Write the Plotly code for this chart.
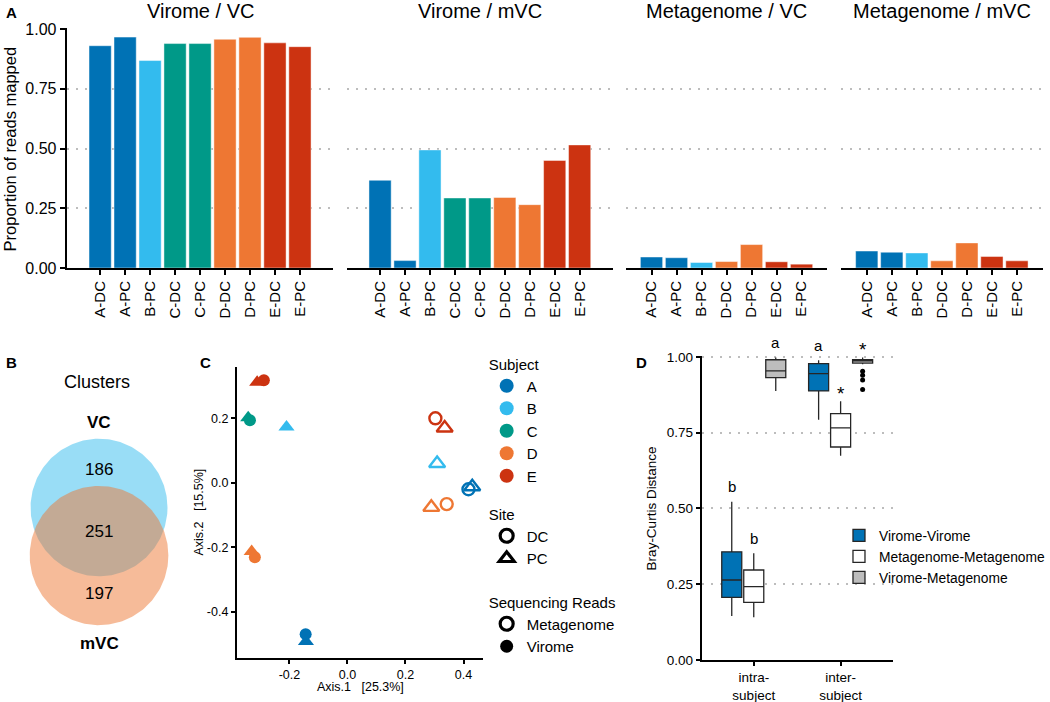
import numpy as np
import plotly.graph_objects as go

FONT = "Liberation Sans, Arial, Helvetica, sans-serif"
W, H = 1050, 702

# ---------------- Panel A data ----------------
facet_titles = ["Virome / VC", "Virome / mVC", "Metagenome / VC", "Metagenome / mVC"]
samples_virome = ["A-DC", "A-PC", "B-PC", "C-DC", "C-PC", "D-DC", "D-PC", "E-DC", "E-PC"]
samples_meta = ["A-DC", "A-PC", "B-PC", "D-DC", "D-PC", "E-DC", "E-PC"]
virome_vc = [0.930, 0.966, 0.868, 0.939, 0.939, 0.957, 0.965, 0.942, 0.926]
virome_mvc = [0.367, 0.031, 0.494, 0.293, 0.293, 0.295, 0.265, 0.450, 0.515]
meta_vc = [0.046, 0.043, 0.023, 0.027, 0.098, 0.026, 0.016]
meta_mvc = [0.071, 0.066, 0.063, 0.030, 0.105, 0.048, 0.030]
a_yticks = [0.0, 0.25, 0.5, 0.75, 1.0]
a_yticktext = ["0.00", "0.25", "0.50", "0.75", "1.00"]

subjects = ["A", "B", "C", "D", "E"]
subject_colors = {"A": "#0072B5", "B": "#33BBEE", "C": "#009988", "D": "#EE7733", "E": "#CC3311"}

# ---------------- Panel B data ----------------
venn_names = ["VC", "mVC"]
venn_only_vc = 186
venn_shared = 251
venn_only_mvc = 197

# ---------------- Panel C data ----------------
pcoa_subject = ["A", "A", "A", "A", "B", "B", "C", "C", "D", "D", "D", "D", "E", "E", "E", "E"]
pcoa_site = ["DC", "PC", "DC", "PC", "PC", "PC", "DC", "PC", "DC", "PC", "DC", "PC", "DC", "PC", "DC", "PC"]
pcoa_reads = ["Virome", "Virome", "Metagenome", "Metagenome", "Virome", "Metagenome", "Virome", "Virome",
              "Virome", "Virome", "Metagenome", "Metagenome", "Virome", "Virome", "Metagenome", "Metagenome"]
pcoa_axis1 = [-0.144, -0.143, 0.417, 0.430, -0.210, 0.309, -0.336, -0.342,
              -0.319, -0.330, 0.342, 0.289, -0.288, -0.311, 0.303, 0.335]
pcoa_axis2 = [-0.469, -0.492, -0.020, -0.012, 0.173, 0.060, 0.194, 0.202,
              -0.231, -0.213, -0.066, -0.076, 0.318, 0.312, 0.200, 0.170]
pcoa_xticks = [-0.2, 0.0, 0.2, 0.4]
pcoa_xticktext = ["-0.2", "0.0", "0.2", "0.4"]
pcoa_yticks = [-0.4, -0.2, 0.0, 0.2]
pcoa_yticktext = ["-0.4", "-0.2", "0.0", "0.2"]
sites = ["DC", "PC"]
reads_types = ["Metagenome", "Virome"]

# ---------------- Panel D data ----------------
bc_groups = ["intra-subject", "inter-subject"]
bc_group_labels = ["intra-<br>subject", "inter-<br>subject"]
bc_series = ["Virome-Virome", "Metagenome-Metagenome", "Virome-Metagenome"]
bc_lowerfence = [[0.145, 0.793], [0.141, 0.674], [0.888, 0.976]]
bc_q1 = [[0.207, 0.888], [0.190, 0.703], [0.932, 0.980]]
bc_median = [[0.264, 0.945], [0.242, 0.766], [0.954, 0.987]]
bc_q3 = [[0.357, 0.978], [0.297, 0.813], [0.991, 0.991]]
bc_upperfence = [[0.522, 0.989], [0.352, 0.854], [0.998, 0.998]]
bc_vm_inter_outliers = [0.953, 0.940, 0.924, 0.893]
bc_letters = [["b", "a"], ["b", "*"], ["a", "*"]]
bc_fill = ["#0072B5", "#FFFFFF", "#BDBDBD"]
d_yticks = [0.0, 0.25, 0.5, 0.75, 1.0]
d_yticktext = ["0.00", "0.25", "0.50", "0.75", "1.00"]


def px_x(p):
    return p / W


def px_y(p):
    return 1 - p / H


fig = go.Figure()
layout = {}
annotations = []

GRID = dict(showgrid=True, gridcolor="#BDBDBD", griddash="2px,7px", gridwidth=1.5)
YTOP = 1.004  # a hair above 1 so the 1.00 grid line is kept

# ---------------- Panel A ----------------
facet_data = [(samples_virome, virome_vc), (samples_virome, virome_mvc),
              (samples_meta, meta_vc), (samples_meta, meta_mvc)]
facet_dom = [(67, 335), (348.3, 616), (629, 831), (845, 1047.7)]
facet_pad = [1.34, 1.34, 1.02, 1.03]
a_base, a_top = 268, 29
a_ydom = [px_y(a_base), px_y(a_top - (YTOP - 1) * (a_base - a_top))]

for i, (cats, vals) in enumerate(facet_data):
    n = i + 1
    sfx = "" if n == 1 else str(n)
    fig.add_trace(go.Bar(
        x=cats, y=vals, width=0.89,
        marker=dict(color=[subject_colors[c.split("-")[0]] for c in cats],
                    line=dict(color="rgba(255,255,255,0.45)", width=1)),
        xaxis="x" + sfx, yaxis="y" + sfx, showlegend=False, hoverinfo="x+y"))
    layout["xaxis" + sfx] = dict(
        domain=[px_x(facet_dom[i][0]), px_x(facet_dom[i][1])],
        range=[-facet_pad[i], len(cats) - 1 + facet_pad[i]],
        type="category", anchor="y" + sfx, showline=True, linecolor="black", linewidth=2,
        ticks="outside", ticklen=5, tickwidth=2, tickcolor="black", tickangle=-90,
        tickfont=dict(size=15, color="black", family=FONT), showgrid=False, zeroline=False,
        automargin=False, fixedrange=True)
    ya = dict(domain=a_ydom, range=[0, YTOP], anchor="x" + sfx, zeroline=False,
              tickvals=a_yticks, ticktext=a_yticktext, automargin=False, fixedrange=True, **GRID)
    if n == 1:
        ya.update(showline=True, linecolor="black", linewidth=2, ticks="outside", ticklen=5,
                  tickwidth=2, tickcolor="black", tickfont=dict(size=16, color="black", family=FONT))
    else:
        ya.update(showline=False, showticklabels=False, ticks="")
    layout["yaxis" + sfx] = ya
    annotations.append(dict(text=facet_titles[i], x=px_x((facet_dom[i][0] + facet_dom[i][1]) / 2),
                            y=px_y(11), xref="paper", yref="paper", showarrow=False,
                            font=dict(size=20, color="black", family=FONT)))

annotations.append(dict(text="Proportion of reads mapped", x=px_x(10), y=px_y(148.5), xref="paper",
                        yref="paper", showarrow=False, textangle=-90,
                        font=dict(size=16.5, color="black", family=FONT)))

# ---------------- Panel B (Venn) ----------------
n_vc = venn_only_vc + venn_shared
n_mvc = venn_only_mvc + venn_shared
r1 = np.sqrt(n_vc / np.pi)
r2 = np.sqrt(n_mvc / np.pi)


def lens_area(d, ra, rb):
    a1 = np.arccos((d * d + ra * ra - rb * rb) / (2 * d * ra))
    a2 = np.arccos((d * d + rb * rb - ra * ra) / (2 * d * rb))
    k = np.sqrt((-d + ra + rb) * (d + ra - rb) * (d - ra + rb) * (d + ra + rb))
    return ra * ra * a1 + rb * rb * a2 - 0.5 * k


lo, hi = abs(r1 - r2) + 1e-6, r1 + r2 - 1e-6
for _ in range(80):
    mid = (lo + hi) / 2
    if lens_area(mid, r1, r2) > venn_shared:
        lo = mid
    else:
        hi = mid
dist = (lo + hi) / 2

scale_px = 68.8 / r1  # pixels per unit
vcx, vcy = 99.5, 531.5
vx_half, vy_half = 80, 135
layout["xaxis7"] = dict(domain=[px_x(vcx - vx_half), px_x(vcx + vx_half)],
                        range=[-vx_half / scale_px, vx_half / scale_px], visible=False,
                        anchor="y7", fixedrange=True)
layout["yaxis7"] = dict(domain=[px_y(vcy + vy_half), px_y(vcy - vy_half)],
                        range=[-vy_half / scale_px, vy_half / scale_px], visible=False,
                        anchor="x7", fixedrange=True)
theta = np.linspace(0, 2 * np.pi, 241)
for r, cy, col in [(r1, dist / 2, "rgba(51,187,238,0.5)"), (r2, -dist / 2, "rgba(238,119,51,0.5)")]:
    fig.add_trace(go.Scatter(x=r * np.cos(theta), y=cy + r * np.sin(theta), mode="lines",
                             fill="toself", fillcolor=col, line=dict(width=0), xaxis="x7",
                             yaxis="y7", showlegend=False, hoverinfo="skip"))
top1 = dist / 2 + r1
top2 = -dist / 2 + r2
bot1 = dist / 2 - r1
bot2 = -dist / 2 - r2
for txt, yy in [(str(venn_only_vc), (top1 + top2) / 2 - 1.2), (str(venn_shared), 0.0),
                (str(venn_only_mvc), (bot1 + bot2) / 2 + 1.2)]:
    annotations.append(dict(text=txt, x=0, y=yy, xref="x7", yref="y7", showarrow=False,
                            font=dict(size=17, color="black", family=FONT)))
annotations.append(dict(text="<b>%s</b>" % venn_names[0], x=0, y=top1 + 16 / scale_px, xref="x7",
                        yref="y7", showarrow=False, font=dict(size=17, color="black", family=FONT)))
annotations.append(dict(text="<b>%s</b>" % venn_names[1], x=0, y=bot2 - 18 / scale_px, xref="x7",
                        yref="y7", showarrow=False, font=dict(size=17, color="black", family=FONT)))
annotations.append(dict(text="Clusters", x=px_x(97), y=px_y(382), xref="paper", yref="paper",
                        showarrow=False, font=dict(size=18, color="black", family=FONT)))

# ---------------- Panel C (PCoA) ----------------
sym_map = {("DC", "Virome"): "circle", ("PC", "Virome"): "triangle-up",
           ("DC", "Metagenome"): "circle-open", ("PC", "Metagenome"): "triangle-up-open"}
for rt in reads_types:
    idx = [k for k in range(len(pcoa_subject)) if pcoa_reads[k] == rt]
    fig.add_trace(go.Scatter(
        x=[pcoa_axis1[k] for k in idx], y=[pcoa_axis2[k] for k in idx], mode="markers",
        marker=dict(color=[subject_colors[pcoa_subject[k]] for k in idx],
                    symbol=[sym_map[(pcoa_site[k], rt)] for k in idx],
                    size=[12 if pcoa_site[k] == "DC" else 14 for k in idx], opacity=1,
                    line=dict(width=2.4 if rt == "Metagenome" else 0)),
        xaxis="x5", yaxis="y5", showlegend=False, cliponaxis=False))

layout["xaxis5"] = dict(domain=[px_x(238), px_x(485)], range=[-0.381, 0.466], anchor="y5",
                        showline=True, linecolor="black", linewidth=2, ticks="outside", ticklen=4,
                        tickwidth=1.5, tickcolor="black", tickvals=pcoa_xticks,
                        ticktext=pcoa_xticktext, tickfont=dict(size=12.5, color="black", family=FONT),
                        showgrid=False, zeroline=False, automargin=False, fixedrange=True)
layout["yaxis5"] = dict(domain=[px_y(658), px_y(367)], range=[-0.543, 0.359], anchor="x5",
                        showline=True, linecolor="black", linewidth=2, ticks="outside", ticklen=4,
                        tickwidth=1.5, tickcolor="black", tickvals=pcoa_yticks,
                        ticktext=pcoa_yticktext, tickfont=dict(size=12.5, color="black", family=FONT),
                        showgrid=False, zeroline=False, automargin=False, fixedrange=True)
annotations.append(dict(text="Axis.1\u00a0\u00a0\u00a0[25.3%]", x=px_x(362), y=px_y(687),
                        xref="paper", yref="paper", showarrow=False,
                        font=dict(size=12.5, color="black", family=FONT)))
annotations.append(dict(text="Axis.2\u00a0\u00a0\u00a0[15.5%]", x=px_x(199), y=px_y(512.5),
                        xref="paper", yref="paper", showarrow=False, textangle=-90,
                        font=dict(size=12.5, color="black", family=FONT)))

# legend entries for panel C
for s in subjects:
    fig.add_trace(go.Scatter(x=[None], y=[None], mode="markers", name=s, legend="legend",
                             marker=dict(color=subject_colors[s], symbol="circle", size=14),
                             xaxis="x5", yaxis="y5"))
for s, sym in zip(sites, ["circle-open", "triangle-up-open"]):
    fig.add_trace(go.Scatter(x=[None], y=[None], mode="markers", name=s, legend="legend2",
                             marker=dict(color="black", symbol=sym, size=13, line=dict(width=3.2)),
                             xaxis="x5", yaxis="y5"))
for rt, sym in zip(reads_types, ["circle-open", "circle"]):
    fig.add_trace(go.Scatter(x=[None], y=[None], mode="markers", name=rt, legend="legend3",
                             marker=dict(color="black", symbol=sym, size=13,
                                         line=dict(width=3.2 if sym == "circle-open" else 0)),
                             xaxis="x5", yaxis="y5"))

# ---------------- Panel D (boxplots) ----------------
boxgap = 0.24
step = (1 - boxgap) / 3
for j, name in enumerate(bc_series):
    fig.add_trace(go.Box(
        x=bc_groups, q1=bc_q1[j], median=bc_median[j], q3=bc_q3[j],
        lowerfence=bc_lowerfence[j], upperfence=bc_upperfence[j], name=name,
        fillcolor=bc_fill[j], line=dict(color="#262626", width=1.3), whiskerwidth=0,
        boxpoints=False, offsetgroup="g%d" % j, alignmentgroup="bc",
        xaxis="x6", yaxis="y6", legend="legend4"))
fig.add_trace(go.Box(
    x=[bc_groups[1]] * len(bc_vm_inter_outliers), y=bc_vm_inter_outliers, boxpoints="all",
    jitter=0, pointpos=0, fillcolor="rgba(0,0,0,0)", line=dict(width=0, color="rgba(0,0,0,0)"),
    marker=dict(color="black", size=5), offsetgroup="g2", alignmentgroup="bc", whiskerwidth=0,
    xaxis="x6", yaxis="y6", showlegend=False, hoverinfo="y"))

d_base, d_top = 660, 357
d_ydom = [px_y(d_base), px_y(d_top - (YTOP - 1) * (d_base - d_top))]


def d_to_paper(v):
    return d_ydom[0] + v / YTOP * (d_ydom[1] - d_ydom[0])


for j in range(3):
    for g in range(2):
        lab = bc_letters[j][g]
        star = lab == "*"
        annotations.append(dict(text=lab, x=g + (j - 1) * step,
                                y=d_to_paper(bc_upperfence[j][g] + (0.026 if star else 0.05)),
                                xref="x6", yref="paper", showarrow=False,
                                font=dict(size=19 if star else 15, color="black", family=FONT)))

layout["xaxis6"] = dict(domain=[px_x(705), px_x(897)], range=[-0.6, 1.6], type="category",
                        anchor="y6", showline=True, linecolor="black", linewidth=2,
                        ticks="outside", ticklen=4, tickwidth=1.5, tickcolor="black",
                        tickvals=bc_groups, ticktext=bc_group_labels,
                        tickfont=dict(size=13.5, color="black", family=FONT), showgrid=False,
                        zeroline=False, automargin=False, fixedrange=True)
layout["yaxis6"] = dict(domain=d_ydom, range=[0, YTOP], anchor="x6",
                        showline=True, linecolor="black", linewidth=2, ticks="outside", ticklen=4,
                        tickwidth=1.5, tickcolor="black", tickvals=d_yticks, ticktext=d_yticktext,
                        tickfont=dict(size=13.5, color="black", family=FONT), zeroline=False,
                        automargin=False, fixedrange=True, **GRID)
annotations.append(dict(text="Bray-Curtis Distance", x=px_x(655), y=px_y(508.5), xref="paper",
                        yref="paper", showarrow=False, textangle=-90,
                        font=dict(size=13.5, color="black", family=FONT)))

# ---------------- Panel labels ----------------
for lab, xx, yy in [("A", 11.5, 13), ("B", 12, 362), ("C", 206, 362), ("D", 645, 362)]:
    annotations.append(dict(text="<b>%s</b>" % lab, x=px_x(xx), y=px_y(yy), xref="paper",
                            yref="paper", showarrow=False,
                            font=dict(size=15, color="black", family=FONT)))

for a in annotations:
    a.setdefault("xanchor", "center")
    a.setdefault("yanchor", "middle")

LEG = dict(xanchor="left", yanchor="top", bgcolor="rgba(0,0,0,0)", borderwidth=0,
           itemsizing="trace", traceorder="normal", tracegroupgap=0)
layout["legend"] = dict(x=px_x(489), y=px_y(350), title=dict(text="Subject", font=dict(size=15)),
                        font=dict(size=15, color="black", family=FONT), **LEG)
layout["legend2"] = dict(x=px_x(489), y=px_y(500), title=dict(text="Site", font=dict(size=15)),
                         font=dict(size=15, color="black", family=FONT), **LEG)
layout["legend3"] = dict(x=px_x(489), y=px_y(588),
                         title=dict(text="Sequencing Reads", font=dict(size=15)),
                         font=dict(size=15, color="black", family=FONT), **LEG)
layout["legend4"] = dict(x=px_x(843), y=px_y(520), font=dict(size=13.8, color="black", family=FONT),
                         **LEG)

fig.update_layout(
    width=W, height=H, margin=dict(l=0, r=0, t=0, b=0, pad=0),
    paper_bgcolor="white", plot_bgcolor="white",
    font=dict(family=FONT, color="black"),
    boxmode="group", boxgap=boxgap, boxgroupgap=0.09,
    annotations=annotations, showlegend=True, **layout)

fig.write_html("out.html", config={"displayModeBar": False},
               post_script="document.body.style.margin='0px';document.body.style.overflow='hidden';")
